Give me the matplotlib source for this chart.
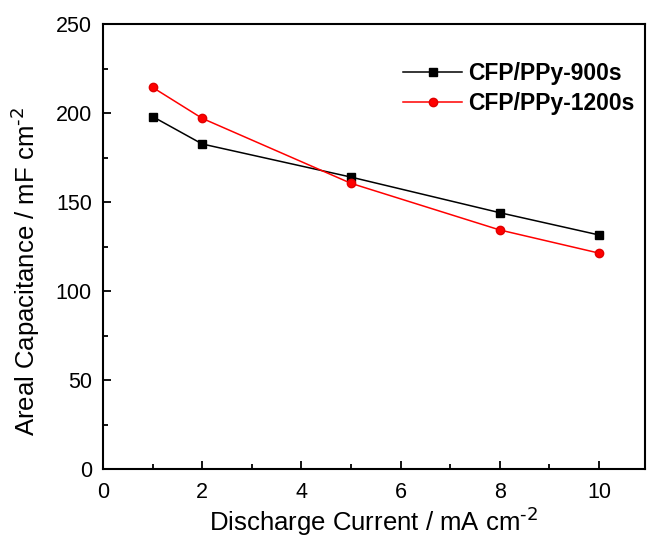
import matplotlib
matplotlib.use("Agg")
import matplotlib.pyplot as plt
from matplotlib.ticker import MultipleLocator

plt.rcParams['font.family'] = ['Liberation Sans', 'DejaVu Sans']
plt.rcParams['axes.unicode_minus'] = False
plt.rcParams['mathtext.default'] = 'regular'

current = [1, 2, 5, 8, 10]
cap_900 = [198, 182.6, 164, 144, 131.5]
cap_1200 = [214.4, 197, 160.5, 134.3, 121.3]
labels = ['CFP/PPy-900s', 'CFP/PPy-1200s']

W, H = 647, 544
fig = plt.figure(figsize=(W/100, H/100), dpi=100)
ax = fig.add_axes([103/W, 1-469/H, (645-103)/W, (469-24)/H])

ax.plot(current, cap_900, color='black', marker='s', markersize=5.5, linewidth=1.1, label=labels[0])
ax.plot(current, cap_1200, color='#ff0000', marker='o', markersize=6, linewidth=1.1,
        markeredgecolor='#e00000', label=labels[1])

ax.set_xlim(0, 10.93)
ax.set_ylim(0, 250)
ax.xaxis.set_major_locator(MultipleLocator(2))
ax.xaxis.set_minor_locator(MultipleLocator(1))
ax.yaxis.set_major_locator(MultipleLocator(50))
ax.yaxis.set_minor_locator(MultipleLocator(25))
ax.tick_params(which='both', direction='in', top=False, right=False, labelsize=15.5, width=1.3)
ax.tick_params(which='major', length=6)
ax.tick_params(which='minor', length=3.5)
ax.tick_params(axis='x', pad=9)
ax.tick_params(axis='y', pad=8)
for s in ax.spines.values():
    s.set_linewidth(1.5)

ax.set_xlabel('Discharge Current / mA cm$^{\\text{-2}}$', fontsize=18.5, labelpad=2)
ax.set_ylabel('Areal Capacitance / mF cm$^{\\text{-2}}$', fontsize=18.5)
ax.yaxis.set_label_coords(-0.112, 0.443)

leg = ax.legend(loc='upper left', bbox_to_anchor=(403/W, 1-62/H), bbox_transform=fig.transFigure,
                frameon=False, prop={'weight': 'bold', 'size': 16.5}, handlelength=2.58,
                labelspacing=0.3, handletextpad=0.26, borderpad=0, borderaxespad=0)

fig.savefig('out.png', dpi=100)
